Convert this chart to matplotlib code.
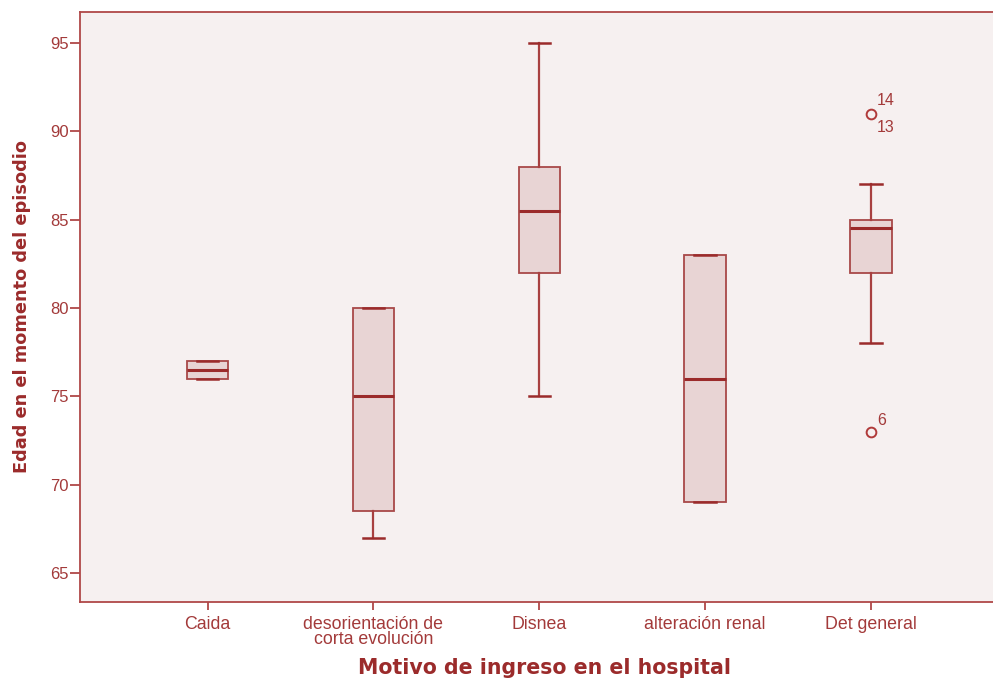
import matplotlib
matplotlib.use("Agg")
from matplotlib import pyplot as plt

categories = ["Caida", "desorientación de\ncorta evolución", "Disnea", "alteración renal", "Det general"]
q1 = [76, 68.5, 82, 69, 82]
median = [76.5, 75, 85.5, 76, 84.5]
q3 = [77, 80, 88, 83, 85]
whislo = [76, 67, 75, 69, 78]
whishi = [77, 80, 95, 83, 87]
outliers = [[], [], [], [], [91, 73]]
outlier_labels = {4: [(91, "14", 9.5), (91, "13", -10), (73, "6", 8)]}

BG = "#f6f0f0"
FILL = "#e8d4d4"
DARK = "#9b2b2b"
TXT = "#a33a3a"

fig = plt.figure(figsize=(9.93, 6.84), dpi=100)
ax = fig.add_axes([0.0806, 0.1199, 0.925, 0.8626])
ax.set_facecolor(BG)

stats = []
for i in range(len(categories)):
    stats.append(dict(med=median[i], q1=q1[i], q3=q3[i], whislo=whislo[i],
                      whishi=whishi[i], fliers=outliers[i], label=categories[i]))

ax.bxp(stats, positions=range(len(categories)), widths=0.25, patch_artist=True,
       capwidths=0.13,
       boxprops=dict(facecolor=FILL, edgecolor="#a84848", linewidth=1.3),
       medianprops=dict(color=DARK, linewidth=2.2),
       whiskerprops=dict(color="#a84040", linewidth=1.6),
       capprops=dict(color=DARK, linewidth=1.8),
       flierprops=dict(marker="o", markerfacecolor="none", markeredgecolor="#b03a3a",
                       markersize=7, markeredgewidth=1.4))

# etiquetas de los casos atipicos
for i, items in outlier_labels.items():
    for val, lab, dy in items:
        ax.annotate(lab, (i, val), xytext=(4.5, dy), textcoords="offset points",
                    fontsize=11.5, color=TXT, family="Liberation Sans", va="center")

ax.set_xlim(-0.77, 4.77)
ax.set_ylim(63.35, 96.75)
ax.set_yticks([65, 70, 75, 80, 85, 90, 95])
ax.set_xticks(range(len(categories)))
ax.set_xticklabels(categories, linespacing=0.85)

for s in ["left", "bottom", "top"]:
    ax.spines[s].set_color("#b04848")
    ax.spines[s].set_linewidth(1.3)
ax.spines["right"].set_visible(False)

ax.tick_params(axis="y", length=7, width=1.3, color="#b04848", labelcolor=TXT, labelsize=12, pad=1)
ax.tick_params(axis="x", length=6, width=1.3, color="#b04848", labelcolor=TXT, labelsize=12.8, pad=4)
for t in ax.get_xticklabels() + ax.get_yticklabels():
    t.set_family("Liberation Sans")

ax.set_xlabel("Motivo de ingreso en el hospital", fontsize=14.8, fontweight="bold", color=DARK)
ax.set_ylabel("Edad en el momento del episodio", fontsize=12.8, fontweight="bold", color=DARK)
ax.xaxis.set_label_coords(0.506, -0.112)
ax.xaxis.label.set_va("center")
ax.yaxis.set_label_coords(-0.0635, 0.5)
ax.yaxis.label.set_va("center")

fig.savefig("out.png", dpi=100, facecolor="white")
